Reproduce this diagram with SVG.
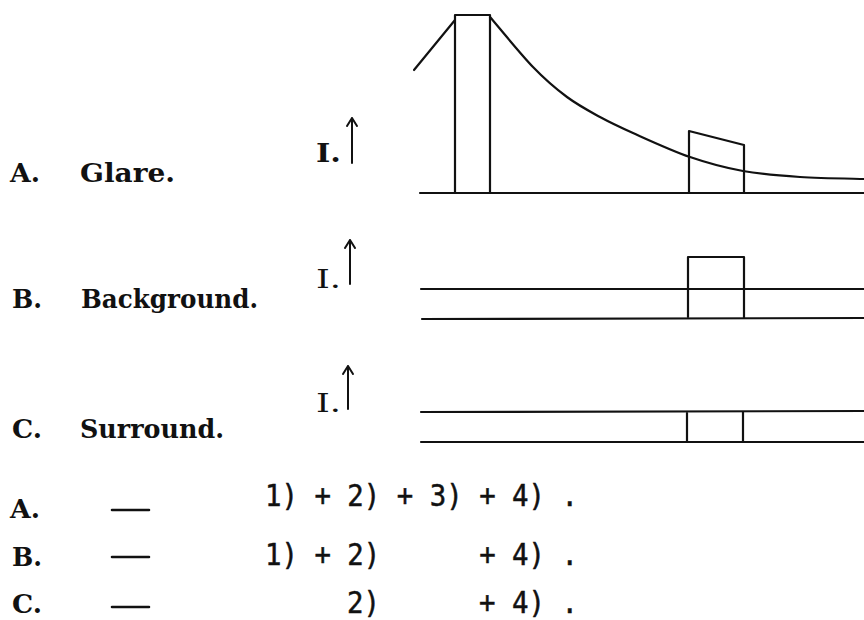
<svg xmlns="http://www.w3.org/2000/svg" width="864" height="620" viewBox="0 0 864 620">
<style>
.bg{fill:#ffffff}
.ln{fill:none;stroke:#111;stroke-width:2.2;stroke-linecap:round;stroke-linejoin:round}
.ax{fill:none;stroke:#111;stroke-width:2;stroke-linecap:round;stroke-linejoin:round}
.lbl{font-family:"DejaVu Serif","Liberation Serif",serif;font-size:26px;font-weight:bold;fill:#111}
.frm{font-family:"DejaVu Sans Mono","Liberation Mono",monospace;font-size:31px;fill:#111;stroke:#111;stroke-width:0.5}
</style>
<rect class="bg" x="0" y="0" width="864" height="620"/>

<g id="labels-upper">
  <text class="lbl" x="10" y="182" textLength="30" lengthAdjust="spacingAndGlyphs">A.</text>
  <text class="lbl" x="80" y="182" textLength="95" lengthAdjust="spacingAndGlyphs">Glare.</text>
  <text class="lbl" x="12" y="308" textLength="30" lengthAdjust="spacingAndGlyphs">B.</text>
  <text class="lbl" x="81" y="308" textLength="177" lengthAdjust="spacingAndGlyphs">Background.</text>
  <text class="lbl" x="12" y="438" textLength="30" lengthAdjust="spacingAndGlyphs">C.</text>
  <text class="lbl" x="80" y="438" textLength="144" lengthAdjust="spacingAndGlyphs">Surround.</text>
</g>

<g id="axis-A">
  <text class="lbl" x="316" y="162" textLength="25" lengthAdjust="spacingAndGlyphs">I.</text>
  <path class="ax" d="M352,163 L352,118 M347,126 L352,118 L357,126"/>
</g>
<g id="axis-B">
  <text class="lbl" x="316" y="288" textLength="25" lengthAdjust="spacingAndGlyphs" style="font-weight:normal">I.</text>
  <path class="ax" d="M350,284 L350,240 M345,248 L350,240 L355,248"/>
</g>
<g id="axis-C">
  <text class="lbl" x="316" y="412" textLength="25" lengthAdjust="spacingAndGlyphs" style="font-weight:normal">I.</text>
  <path class="ax" d="M348,409 L348,366 M343,374 L348,366 L353,374"/>
</g>

<g id="panel-A">
  <path class="ln" d="M420,193 L864,193"/>
  <path class="ln" d="M414,70 L455,20"/>
  <path class="ln" d="M455,193 L455,15 L490,15 L490,193"/>
  <path class="ln" d="M490,17 C497.2,25.3 520.2,53.7 533,67 C545.8,80.3 555.8,88.7 567,97 C578.2,105.3 589,111 600,117 C611,123 618,126.3 633,133 C648,139.7 671.7,150.7 690,157 C708.3,163.3 724.7,167.7 743,171 C761.3,174.3 779.8,175.7 800,177 C820.2,178.3 853.3,178.7 864,179"/>
  <path class="ln" d="M689,193 L689,131 L744,145 L744,193"/>
</g>

<g id="panel-B">
  <path class="ln" d="M421,289 L864,289"/>
  <path class="ln" d="M422,319 L864,318"/>
  <path class="ln" d="M688,317 L688,257 L744,257 L744,318"/>
</g>

<g id="panel-C">
  <path class="ln" d="M421,412 L864,411"/>
  <path class="ln" d="M421,442 L864,442"/>
  <path class="ln" d="M687,442 L687,413 M743,442 L743,412"/>
</g>

<g id="labels-lower">
  <text class="lbl" x="10" y="518" textLength="30" lengthAdjust="spacingAndGlyphs">A.</text>
  <text class="lbl" x="12" y="566" textLength="30" lengthAdjust="spacingAndGlyphs">B.</text>
  <text class="lbl" x="12" y="613" textLength="30" lengthAdjust="spacingAndGlyphs">C.</text>
  <path class="ln" d="M112,510 L149,510 M112,557 L149,557 M112,607 L149,607" style="stroke-width:2.6"/>
</g>

<g id="formulas">
  <text class="frm" x="265" y="506" xml:space="preserve" textLength="313" lengthAdjust="spacingAndGlyphs">1) + 2) + 3) + 4) .</text>
  <text class="frm" x="265" y="565" xml:space="preserve" textLength="313" lengthAdjust="spacingAndGlyphs">1) + 2)      + 4) .</text>
  <text class="frm" x="347" y="613" xml:space="preserve" textLength="231" lengthAdjust="spacingAndGlyphs">2)      + 4) .</text>
</g>
</svg>
